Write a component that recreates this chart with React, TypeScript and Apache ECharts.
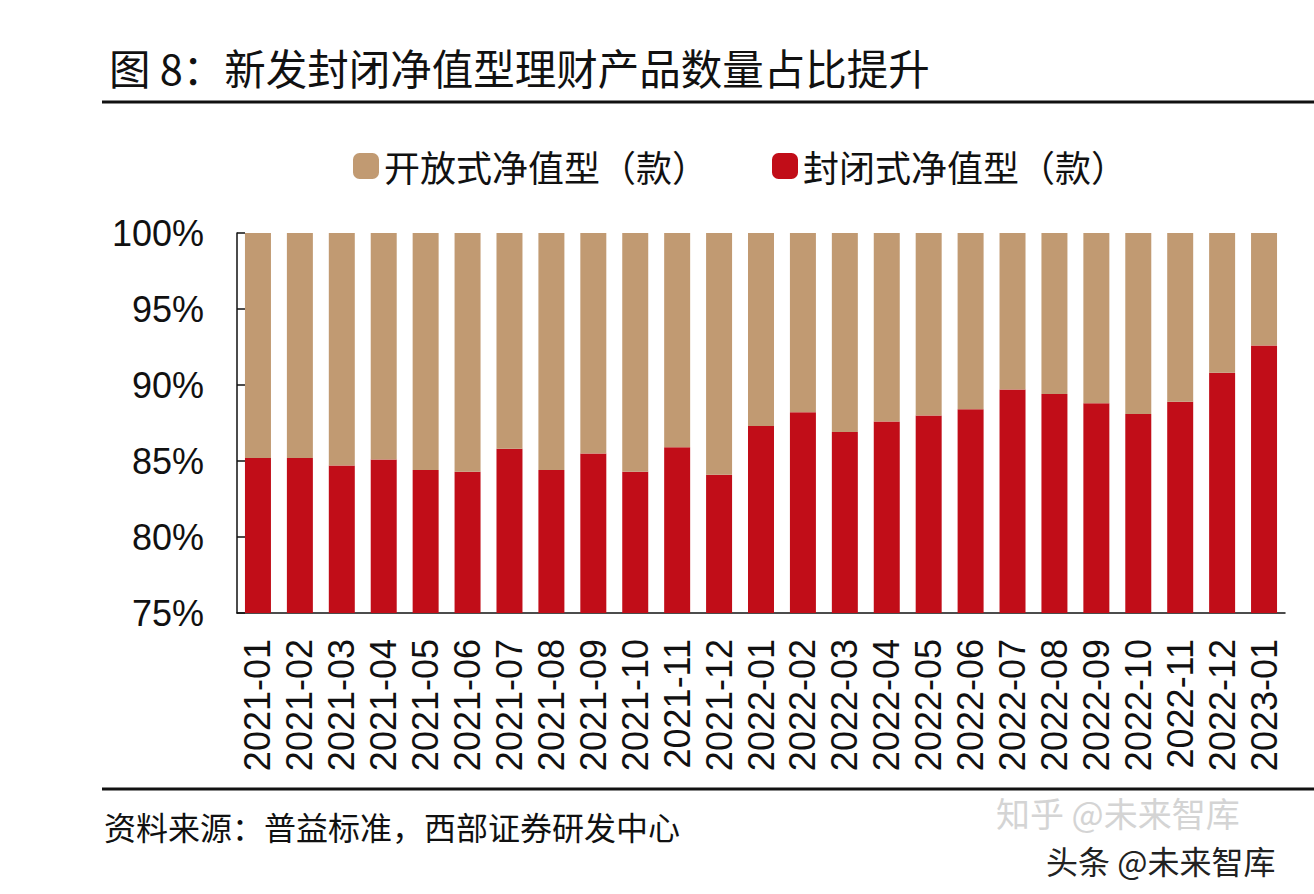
import React, { useEffect, useRef } from "react";
import * as echarts from "echarts";

const categories = [
  "2021-01", "2021-02", "2021-03", "2021-04", "2021-05", "2021-06",
  "2021-07", "2021-08", "2021-09", "2021-10", "2021-11", "2021-12",
  "2022-01", "2022-02", "2022-03", "2022-04", "2022-05", "2022-06",
  "2022-07", "2022-08", "2022-09", "2022-10", "2022-11", "2022-12",
  "2023-01",
];

// 封闭式净值型 share (%)
const closedShare = [
  85.2, 85.2, 84.7, 85.1, 84.4, 84.3,
  85.8, 84.4, 85.5, 84.3, 85.9, 84.1,
  87.3, 88.2, 86.9, 87.6, 88.0, 88.4,
  89.7, 89.4, 88.8, 88.1, 88.9, 90.8,
  92.6,
];

// 开放式净值型 share (%)
const openShare = closedShare.map((v) => Math.round((100 - v) * 10) / 10);

const yTicks = ["75%", "80%", "85%", "90%", "95%", "100%"];

const titleText = "图 8：新发封闭净值型理财产品数量占比提升";
const sourceText = "资料来源：普益标准，西部证券研发中心";
const legendNames = ["开放式净值型（款）", "封闭式净值型（款）"];

const BROWN = "#C19A72";
const RED = "#C10D18";
const CJK = "'Noto Sans CJK SC', sans-serif";
const LATIN = "'Liberation Sans', Arial, sans-serif";

export default function App() {
  const ref = useRef<HTMLDivElement>(null);

  useEffect(() => {
    if (!ref.current) return;
    const chart = echarts.init(ref.current, null, { renderer: "svg" });
    chart.setOption({
      animation: false,
      backgroundColor: "#ffffff",
      title: {
        text: titleText,
        left: 104,
        top: 41,
        textStyle: { fontFamily: CJK, fontSize: 41.5, fontWeight: "normal", color: "#111" },
      },
      legend: {
        data: legendNames,
        left: 348,
        top: 143,
        itemWidth: 26,
        itemHeight: 26,
        itemGap: 64,
        icon: "roundRect",
        textStyle: { fontFamily: CJK, fontSize: 36, color: "#111" },
      },
      grid: { left: 237, right: 29, top: 233, bottom: 281, containLabel: false },
      xAxis: {
        type: "category",
        data: categories,
        axisLine: { lineStyle: { color: "#111", width: 1.5 } },
        axisTick: { inside: true, length: 8, lineStyle: { color: "#111", width: 1.5 } },
        axisLabel: {
          interval: 0,
          rotate: 90,
          margin: 26,
          fontFamily: LATIN,
          fontSize: 36,
          color: "#111",
        },
      },
      yAxis: {
        type: "value",
        min: 75,
        max: 100,
        interval: 5,
        splitLine: { show: false },
        axisLine: { show: true, lineStyle: { color: "#111", width: 1.5 } },
        axisTick: { show: true, inside: true, length: 8, lineStyle: { color: "#111", width: 1.5 } },
        axisLabel: {
          margin: 33,
          fontFamily: LATIN,
          fontSize: 36,
          color: "#111",
          formatter: (v: number) => yTicks[Math.round((v - 75) / 5)] ?? v + "%",
        },
      },
      series: [
        {
          name: legendNames[1],
          type: "bar",
          stack: "total",
          data: closedShare,
          barWidth: "62%",
          itemStyle: { color: RED },
          clip: true,
        },
        {
          name: legendNames[0],
          type: "bar",
          stack: "total",
          data: openShare,
          barWidth: "62%",
          itemStyle: { color: BROWN },
          clip: true,
        },
      ],
      graphic: [
        {
          type: "line",
          shape: { x1: 102, y1: 102, x2: 1314, y2: 102 },
          style: { stroke: "#111", lineWidth: 3 },
        },
        {
          type: "line",
          shape: { x1: 102, y1: 789, x2: 1314, y2: 789 },
          style: { stroke: "#111", lineWidth: 3 },
        },
        {
          type: "text",
          left: 104,
          top: 810,
          style: { text: sourceText, font: `32px ${CJK}`, fill: "#111" },
        },
        {
          type: "text",
          left: 996,
          top: 795,
          style: { text: "知乎 @未来智库", font: `34px ${CJK}`, fill: "#d4d4d4" },
        },
        {
          type: "text",
          left: 1046,
          top: 844,
          style: { text: "头条 @未来智库", font: `32px ${CJK}`, fill: "#222" },
        },
      ],
    });
    return () => chart.dispose();
  }, []);

  return (
    <div
      ref={ref}
      style={{ position: "fixed", left: 0, top: 0, width: 1314, height: 894, background: "#fff" }}
    />
  );
}
